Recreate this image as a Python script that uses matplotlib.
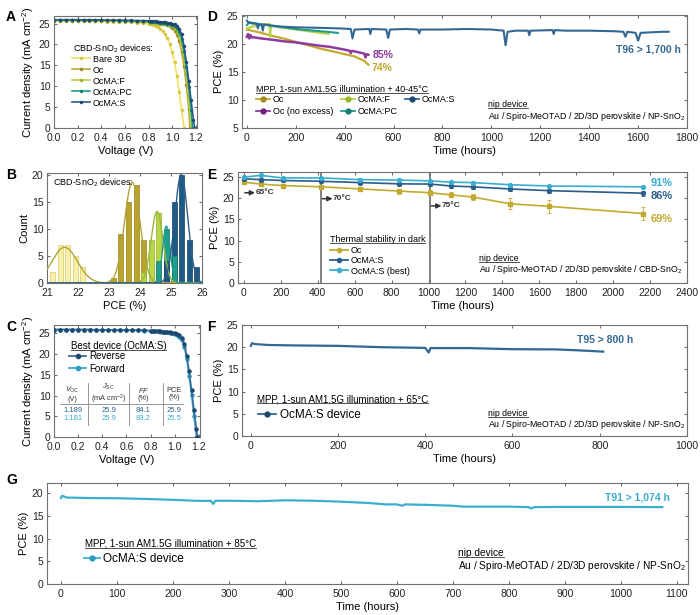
import numpy as np
import matplotlib
matplotlib.use("Agg")
import matplotlib.pyplot as plt
from matplotlib.lines import Line2D

plt.rcParams["font.family"] = ["Liberation Sans", "DejaVu Sans"]
plt.rcParams["mathtext.fontset"] = "custom"
plt.rcParams["mathtext.rm"] = "Liberation Sans"
plt.rcParams["mathtext.it"] = "Liberation Sans:italic"
plt.rcParams["mathtext.bf"] = "Liberation Sans:bold"
plt.rcParams["font.size"] = 7.5
plt.rcParams["axes.linewidth"] = 0.8
plt.rcParams["axes.edgecolor"] = "#707070"
plt.rcParams["xtick.direction"] = "in"
plt.rcParams["ytick.direction"] = "in"
plt.rcParams["xtick.top"] = True
plt.rcParams["ytick.right"] = True
plt.rcParams["xtick.major.size"] = 2.5
plt.rcParams["ytick.major.size"] = 2.5
plt.rcParams["xtick.color"] = "#707070"
plt.rcParams["ytick.color"] = "#707070"
plt.rcParams["xtick.labelcolor"] = "#222222"
plt.rcParams["ytick.labelcolor"] = "#222222"
plt.rcParams["xtick.major.pad"] = 3.5
plt.rcParams["ytick.major.pad"] = 2.5
plt.rcParams["axes.labelsize"] = 8
plt.rcParams["axes.labelpad"] = 2
plt.rcParams["legend.frameon"] = False

# colours
c_bare = "#f0df62"
c_oc = "#c2aa2e"
c_f = "#b4d444"
c_pc = "#1f9c8a"
c_s = "#2b5d8a"
c_ne = "#8e3a9e"
c_best = "#3aaed0"

# ---------------- A: J-V curves ----------------
v_grid = [0.00, 0.05, 0.10, 0.15, 0.20, 0.25, 0.30, 0.35, 0.40, 0.45, 0.50, 0.55,
          0.60, 0.65, 0.70, 0.75, 0.80, 0.82, 0.84, 0.86, 0.88, 0.90, 0.92, 0.94,
          0.96, 0.98, 1.00, 1.02, 1.04, 1.06, 1.08, 1.10, 1.12, 1.14, 1.16, 1.18]
jv_names = ["Bare 3D", "Oc", "OcMA:F", "OcMA:PC", "OcMA:S"]
jv_voc = [1.102, 1.150, 1.160, 1.172, 1.189]
j_bare = [25.6, 25.6, 25.6, 25.6, 25.6, 25.55, 25.55, 25.5, 25.5, 25.45, 25.45, 25.4,
          25.35, 25.25, 25.15, 25.05, 24.9, 24.8, 24.6, 24.4, 24.1, 23.7, 23.2, 22.5,
          21.5, 20.1, 18.2, 15.7, 12.5, 8.6, 4.3]
j_oc = [25.8, 25.8, 25.8, 25.8, 25.8, 25.75, 25.75, 25.7, 25.7, 25.7, 25.65, 25.6,
        25.6, 25.55, 25.5, 25.45, 25.4, 25.35, 25.3, 25.2, 25.1, 25.0, 24.9, 24.8,
        24.6, 24.3, 23.9, 23.3, 22.3, 20.7, 18.3, 14.8, 10.2, 4.5]
j_f = [25.7, 25.7, 25.7, 25.7, 25.7, 25.7, 25.65, 25.65, 25.6, 25.6, 25.6, 25.55,
       25.55, 25.5, 25.45, 25.4, 25.35, 25.3, 25.25, 25.2, 25.1, 25.0, 24.95, 24.85,
       24.75, 24.65, 24.5, 24.1, 23.4, 22.2, 20.2, 17.1, 12.9, 7.6]
j_pc = [25.9, 25.9, 25.9, 25.9, 25.9, 25.85, 25.85, 25.8, 25.8, 25.8, 25.75, 25.7,
        25.7, 25.65, 25.6, 25.55, 25.5, 25.45, 25.4, 25.35, 25.3, 25.2, 25.15, 25.05,
        24.95, 24.85, 24.7, 24.4, 23.9, 22.9, 21.2, 18.4, 14.6, 9.9, 4.4]
j_s = [25.9, 25.9, 25.9, 25.9, 25.9, 25.9, 25.85, 25.85, 25.85, 25.8, 25.8, 25.8,
       25.75, 25.75, 25.7, 25.7, 25.65, 25.6, 25.55, 25.5, 25.45, 25.4, 25.35, 25.3,
       25.2, 25.1, 25.0, 24.8, 24.5, 23.8, 22.4, 19.6, 15.8, 11.3, 6.6, 2.0]
jv_curves = [j_bare, j_oc, j_f, j_pc, j_s]
jv_colors = [c_bare, c_oc, c_f, c_pc, c_s]
jv_mfc = ["#d8c540", "#a08a1c", "#98b82c", "#13806f", "#1e4870"]

# ---------------- B: histograms ----------------
h_bare_x = [21.18, 21.425, 21.67, 21.915, 22.16]
h_bare_n = [2, 7, 7, 5, 3]
h_oc_x = [23.14, 23.385, 23.63, 23.875, 24.12]
h_oc_n = [1, 9, 15, 18, 8]
h_f_x = [24.12, 24.365, 24.61]
h_f_n = [2, 8, 13]
h_pc_x = [24.61, 24.855, 25.1]
h_pc_n = [4, 10, 5]
h_s_x = [24.855, 25.1, 25.345, 25.59, 25.835]
h_s_n = [4, 15, 20, 8, 3]
fit_center = [21.57, 23.75, 24.55, 24.85, 25.33]
fit_sigma = [0.41, 0.25, 0.19, 0.12, 0.21]
fit_height = [6.6, 18.6, 13.2, 10.5, 20.0]

# ---------------- C: best device ----------------
j_rev = [25.9, 25.9, 25.9, 25.9, 25.9, 25.9, 25.9, 25.85, 25.85, 25.85, 25.8, 25.8,
         25.8, 25.75, 25.75, 25.7, 25.65, 25.6, 25.55, 25.5, 25.45, 25.4, 25.35, 25.3,
         25.2, 25.1, 25.0, 24.8, 24.5, 23.8, 22.4, 19.6, 15.8, 11.3, 6.6, 2.0]
j_fwd = [25.9, 25.9, 25.9, 25.9, 25.9, 25.9, 25.85, 25.85, 25.8, 25.8, 25.8, 25.75,
         25.75, 25.7, 25.7, 25.65, 25.6, 25.55, 25.5, 25.45, 25.4, 25.35, 25.3, 25.2,
         25.1, 25.0, 24.8, 24.6, 24.2, 23.4, 21.8, 18.8, 14.8, 10.1, 5.0]
voc_rev, voc_fwd = 1.189, 1.181
tab_head = ["$V_\\mathrm{OC}$\n(V)", "$J_\\mathrm{SC}$\n(mA cm$^{-2}$)", "$FF$\n(%)", "PCE\n(%)"]
tab_rev = ["1.189", "25.9", "84.1", "25.9"]
tab_fwd = ["1.181", "25.9", "83.2", "25.5"]

# ---------------- D: MPP 40-45 C ----------------
d_s_t = [0, 5, 20, 40, 45, 50, 60, 65, 70, 100, 150, 200, 300, 380, 425, 432, 440,
         500, 505, 510, 570, 578, 585, 650, 700, 705, 710, 800, 900, 1000, 1050, 1058,
         1066, 1100, 1150, 1155, 1160, 1250, 1255, 1260, 1300, 1400, 1500, 1540, 1548,
         1556, 1590, 1600, 1610, 1650, 1700, 1725]
d_s_v = [24.2, 23.9, 23.7, 23.6, 22.8, 23.5, 23.5, 22.4, 23.5, 23.3, 23.1, 23.0, 22.9,
         22.8, 22.7, 21.0, 22.6, 22.7, 21.8, 22.7, 22.6, 21.1, 22.6, 22.7, 22.6, 21.9,
         22.6, 22.6, 22.7, 22.6, 22.4, 19.8, 22.2, 22.4, 22.4, 21.6, 22.4, 22.5, 21.8,
         22.5, 22.4, 22.4, 22.3, 22.2, 21.3, 22.2, 22.0, 20.6, 22.0, 22.1, 22.2, 22.2]
d_pc_t = [0, 10, 50, 100, 150, 200, 250, 300, 350, 372]
d_pc_v = [23.4, 23.9, 23.6, 23.3, 23.0, 22.7, 22.5, 22.3, 22.1, 22.0]
d_f_t = [0, 20, 50, 70, 92, 95, 98, 100, 150, 200, 250, 300, 333]
d_f_v = [22.8, 23.1, 23.4, 23.5, 23.6, 21.3, 23.3, 23.2, 22.9, 22.6, 22.3, 22.0, 21.8]
d_oc_t = [0, 50, 100, 150, 200, 250, 300, 350, 400, 440, 455, 465, 480, 490, 497]
d_oc_v = [22.6, 22.1, 21.5, 21.0, 20.4, 19.8, 19.2, 18.7, 18.2, 17.8, 17.5, 17.3, 17.0, 16.6, 16.3]
d_ne_t = [0, 5, 10, 15, 20, 30, 60, 100, 150, 200, 250, 300, 340, 400, 420, 425, 430,
          450, 480, 485, 490, 497]
d_ne_v = [21.3, 21.8, 21.0, 21.6, 21.2, 21.2, 21.0, 20.8, 20.5, 20.3, 20.0, 19.7, 19.5,
          19.0, 18.8, 18.4, 18.8, 18.6, 18.3, 17.6, 18.2, 18.1]

# ---------------- E: thermal stability ----------------
e_t = [0, 90, 210, 420, 630, 840, 1010, 1120, 1240, 1440, 1650, 2160]
e_oc = [23.8, 23.35, 23.0, 22.7, 22.2, 21.7, 21.3, 20.8, 20.3, 18.7, 18.1, 16.4]
e_oc_err = [0.2, 0.3, 0.4, 0.3, 0.3, 0.6, 0.6, 0.6, 0.7, 1.3, 1.6, 1.5]
e_s = [24.6, 24.4, 24.2, 24.0, 23.7, 23.4, 23.35, 22.9, 22.7, 22.2, 21.8, 21.2]
e_s_err = [0.3, 0.3, 0.4, 0.3, 0.3, 0.4, 0.4, 0.5, 0.4, 0.5, 0.5, 0.6]
e_best = [25.0, 25.4, 24.8, 24.8, 24.4, 24.3, 24.1, 23.8, 23.7, 23.2, 22.9, 22.7]
e_steps = [0, 420, 1010]
e_temps = ["65°C", "70°C", "75°C"]

# ---------------- F: MPP 65 C ----------------
f_t = [0, 3, 10, 40, 100, 200, 300, 400, 405, 408, 412, 500, 600, 700, 750, 808]
f_v = [20.3, 20.9, 20.7, 20.5, 20.4, 20.3, 20.0, 19.85, 19.2, 18.8, 19.8, 19.8, 19.55,
       19.5, 19.3, 19.0]

# ---------------- G: MPP 85 C ----------------
g_t = [0, 2, 10, 50, 100, 150, 200, 240, 268, 272, 276, 300, 350, 380, 400, 450, 500,
       550, 580, 600, 610, 615, 650, 700, 720, 800, 835, 840, 845, 900, 1000, 1074]
g_v = [18.9, 19.4, 19.0, 18.9, 18.85, 18.7, 18.5, 18.3, 18.25, 17.6, 18.3, 18.3, 18.2,
       18.3, 18.4, 18.3, 18.1, 17.8, 17.5, 17.5, 17.2, 17.5, 17.4, 17.2, 17.0, 17.0,
       16.9, 16.6, 16.9, 16.95, 16.95, 16.9]

stack_np = "Au / Spiro-MeOTAD / 2D/3D perovskite / NP-SnO$_2$"
stack_cbd = "Au / Spiro-MeOTAD / 2D/3D perovskite / CBD-SnO$_2$"

fig = plt.figure(figsize=(7.0, 6.15), dpi=100)
underlined = []


def utext(ax, x, y, s, **kw):
    t = ax.text(x, y, s, **kw)
    underlined.append(t)
    return t


def px_axes(l, t, r, b):
    return fig.add_axes([l / 700, 1 - b / 615, (r - l) / 700, (b - t) / 615])


def mline(color, mfc, label, ms=3.5):
    return Line2D([], [], color=color, lw=1.3, marker="o", ms=ms, mfc=mfc,
                  mec=mfc, label=label)


# ---- A ----
axA = px_axes(54, 16, 197, 128)
for name, J, voc, col, mfc in zip(jv_names, jv_curves, jv_voc, jv_colors, jv_mfc):
    v = v_grid[:len(J)] + [voc]
    j = J + [0.0]
    axA.plot(v, j, color=col, lw=1.2, marker="o", ms=2.2, mfc=mfc, mec=mfc, mew=0.3,
             label=name)
axA.set_xlim(0, 1.21)
axA.set_ylim(0, 26.8)
axA.set_xticks(np.arange(0, 1.21, 0.2))
axA.set_yticks([0, 5, 10, 15, 20, 25])
axA.set_xlabel("Voltage (V)")
axA.set_ylabel("Current density (mA cm$^{-2}$)")
axA.text(0.16, 19.0, "CBD-SnO$_2$ devices:", fontsize=6.5, va="center")
axA.legend(loc="upper left", bbox_to_anchor=(0.125, 0.655), fontsize=6.5,
           handlelength=2.0, handletextpad=0.3, labelspacing=0.22, borderpad=0,
           borderaxespad=0)

# ---- B ----
axB = px_axes(47, 173, 202, 283)
groups = [(h_bare_x, h_bare_n, "#f8f0a8", "#d8c860"),
          (h_oc_x, h_oc_n, "#bba22a", "#9a8418"),
          (h_f_x, h_f_n, "#b8d84a", "#8fae2c"),
          (h_pc_x, h_pc_n, "#1fa08d", "#157a6a"),
          (h_s_x, h_s_n, "#1d5a88", "#143f62")]
for xs, ns, fc, ec in groups:
    for x, n in zip(xs, ns):
        axB.bar(x, n, width=0.16, color=fc, edgecolor=ec, lw=0.5, zorder=30 - n)
fit_colors = ["#b0a43c", "#b0a43c", "#9cba3a", "#1f9c8a", "#2b5d8a"]
xx = np.linspace(21, 26, 500)
for c0, sg, hh, fc in zip(fit_center, fit_sigma, fit_height, fit_colors):
    axB.plot(xx, hh * np.exp(-(xx - c0) ** 2 / (2 * sg ** 2)), color=fc, lw=1.0, zorder=40)
axB.set_xlim(21, 26)
axB.set_ylim(0, 20.3)
axB.set_xticks([21, 22, 23, 24, 25, 26])
axB.set_yticks([0, 5, 10, 15, 20])
axB.set_xlabel("PCE (%)")
axB.set_ylabel("Count")
axB.text(21.19, 18.5, "CBD-SnO$_2$ devices:", fontsize=6.5, va="center", zorder=50)

# ---- C ----
axC = px_axes(54, 325, 200, 437)
axC.plot(v_grid[:len(j_fwd)] + [voc_fwd], j_fwd + [0.0], color=c_best, lw=1.2,
         marker="o", ms=2.2, mfc="#2a9cc0", mec="#2a9cc0", zorder=2)
axC.plot(v_grid[:len(j_rev)] + [voc_rev], j_rev + [0.0], color="#3b6e98", lw=1.2,
         marker="o", ms=2.2, mfc="#1e4870", mec="#1e4870", zorder=3)
axC.set_xlim(0, 1.21)
axC.set_ylim(0, 27)
axC.set_xticks(np.arange(0, 1.21, 0.2))
axC.set_yticks([0, 5, 10, 15, 20, 25])
axC.set_xlabel("Voltage (V)")
axC.set_ylabel("Current density (mA cm$^{-2}$)")
utext(axC, 0.137, 22.0, "Best device (OcMA:S)", fontsize=7, va="center")
axC.legend(handles=[mline("#3b6e98", "#1e4870", "Reverse", 3),
                    mline(c_best, "#2a9cc0", "Forward", 3)],
           loc="upper left", bbox_to_anchor=(0.105, 0.765), fontsize=7,
           handlelength=1.7, handletextpad=0.3, labelspacing=0.25, borderpad=0,
           borderaxespad=0)
tab_x = [0.154, 0.452, 0.74, 0.997]
for x, hd, r, f in zip(tab_x, tab_head, tab_rev, tab_fwd):
    axC.text(x, 10.4, hd, fontsize=5.3, ha="center", va="center", color="#333333",
             linespacing=1.1)
    axC.text(x, 6.5, r, fontsize=5.5, ha="center", va="center", color="#2b5d8a")
    axC.text(x, 4.4, f, fontsize=5.5, ha="center", va="center", color=c_best)
axC.plot([0.05, 1.07], [7.9, 7.9], color="#888888", lw=0.6)
for x in [0.285, 0.62, 0.905]:
    axC.plot([x, x], [2.8, 12.9], color="#888888", lw=0.6)

# ---- D ----
axD = px_axes(242, 15, 687, 128)
axD.plot(d_oc_t, d_oc_v, color=c_oc, lw=1.6)
axD.plot(d_ne_t, d_ne_v, color=c_ne, lw=1.8)
axD.plot(d_f_t, d_f_v, color=c_f, lw=1.5)
axD.plot(d_pc_t, d_pc_v, color=c_pc, lw=1.5)
axD.plot(d_s_t, d_s_v, color="#336894", lw=1.5)
axD.set_xlim(-20, 1800)
axD.set_ylim(5, 25.2)
axD.set_xticks(np.arange(0, 1801, 200))
axD.set_yticks([5, 10, 15, 20, 25])
axD.set_xlabel("Time (hours)")
axD.set_ylabel("PCE (%)")
utext(axD, 38, 11.83, "MPP, 1-sun AM1.5G illumination + 40-45°C", fontsize=6.5, va="center")
axD.legend(handles=[mline(c_oc, "#a08a1c", "Oc"), mline(c_ne, "#6e2080", "Oc (no excess)"),
                    mline(c_f, "#98b82c", "OcMA:F"), mline(c_pc, "#13806f", "OcMA:PC"),
                    mline("#336894", "#1e4870", "OcMA:S")],
           ncol=3, loc="upper left", bbox_to_anchor=(0.031, 0.29), fontsize=6.5,
           handlelength=1.6, handletextpad=0.3, labelspacing=0.3, columnspacing=0.8,
           borderpad=0, borderaxespad=0)
axD.text(1773, 18.95, "T96 > 1,700 h", fontsize=7.5, fontweight="bold", color="#336894",
         ha="right", va="center")
axD.text(513, 18.06, "85%", fontsize=7.5, fontweight="bold", color=c_ne, va="center")
axD.text(509, 15.7, "74%", fontsize=7.5, fontweight="bold", color=c_oc, va="center")
utext(axD, 987, 9.27, "nip device", fontsize=6.3, va="center")
axD.text(987, 7.08, stack_np, fontsize=6.3, va="center")

# ---- E ----
axE = px_axes(238, 172, 687, 283)
for x in e_steps[1:]:
    axE.axvline(x, color="#808080", lw=1.4, zorder=1)
axE.errorbar(e_t, e_oc, yerr=e_oc_err, color=c_oc, lw=1.2, marker="s", ms=2.8,
             elinewidth=0.6, capsize=1.5, capthick=0.6, zorder=3)
axE.errorbar(e_t, e_s, yerr=e_s_err, color=c_s, lw=1.2, marker="o", ms=2.8,
             elinewidth=0.6, capsize=1.5, capthick=0.6, zorder=4)
axE.plot(e_t, e_best, color=c_best, lw=1.2, marker="o", ms=2.8, zorder=5)
arrow_y = [21.3, 19.9, 18.2]
for x, tt, y in zip(e_steps, e_temps, arrow_y):
    axE.annotate("", xy=(x + 60, y), xytext=(x + 5, y),
                 arrowprops=dict(arrowstyle="-|>", color="#333333", lw=1.1,
                                 mutation_scale=7, shrinkA=0, shrinkB=0))
    axE.text(x + 62, y, tt, fontsize=6, fontweight="bold", color="#333333", va="center")
axE.set_xlim(-32, 2400)
axE.set_ylim(0, 26.2)
axE.set_xticks(np.arange(0, 2401, 200))
axE.set_yticks([0, 5, 10, 15, 20, 25])
axE.set_xlabel("Time (hours)")
axE.set_ylabel("PCE (%)")
utext(axE, 466, 10.3, "Thermal stability in dark", fontsize=6.5, va="center")
axE.legend(handles=[mline(c_oc, c_oc, "Oc", 3), mline(c_s, c_s, "OcMA:S", 3),
                    mline(c_best, c_best, "OcMA:S (best)", 3)],
           loc="upper left", bbox_to_anchor=(0.205, 0.335), fontsize=6.5,
           handlelength=2.0, handletextpad=0.3, labelspacing=0.15, borderpad=0,
           borderaxespad=0)
axE.text(2205, 23.5, "91%", fontsize=8, fontweight="bold", color=c_best, va="center")
axE.text(2205, 20.6, "86%", fontsize=8, fontweight="bold", color=c_s, va="center")
axE.text(2205, 15.2, "69%", fontsize=8, fontweight="bold", color=c_oc, va="center")
utext(axE, 1276, 5.7, "nip device", fontsize=6.3, va="center")
axE.text(1276, 3.1, stack_cbd, fontsize=6.3, va="center")

# ---- F ----
axF = px_axes(242, 325, 687, 436)
axF.plot(f_t, f_v, color="#336894", lw=1.6)
axF.set_xlim(-20, 1000)
axF.set_ylim(0, 25)
axF.set_xticks(np.arange(0, 1001, 200))
axF.set_yticks([0, 5, 10, 15, 20, 25])
axF.set_xlabel("Time (hours)")
axF.set_ylabel("PCE (%)")
utext(axF, 14, 8.26, "MPP, 1-sun AM1.5G illumination + 65°C", fontsize=7, va="center")
axF.legend(handles=[mline("#336894", "#1e4870", "OcMA:S device")],
           loc="upper left", bbox_to_anchor=(0.037, 0.245), fontsize=8.5,
           handlelength=1.5, handletextpad=0.3, borderpad=0, borderaxespad=0)
axF.text(748, 21.6, "T95 > 800 h", fontsize=7.5, fontweight="bold", color="#336894",
         va="center")
utext(axF, 545, 5.1, "nip device", fontsize=6.3, va="center")
axF.text(545, 2.5, stack_np, fontsize=6.3, va="center")

# ---- G ----
axG = px_axes(47, 483, 688, 584)
axG.plot(g_t, g_v, color=c_best, lw=1.6)
axG.set_xlim(-25, 1120)
axG.set_ylim(0, 22.2)
axG.set_xticks(np.arange(0, 1101, 100))
axG.set_yticks([0, 5, 10, 15, 20])
axG.set_xlabel("Time (hours)")
axG.set_ylabel("PCE (%)")
utext(axG, 42, 8.9, "MPP, 1-sun AM1.5G illumination + 85°C", fontsize=7, va="center")
axG.legend(handles=[mline(c_best, "#2a9cc0", "OcMA:S device")],
           loc="upper left", bbox_to_anchor=(0.058, 0.31), fontsize=8.5,
           handlelength=1.3, handletextpad=0.3, borderpad=0, borderaxespad=0)
axG.text(1088, 19.1, "T91 > 1,074 h", fontsize=7.5, fontweight="bold", color=c_best,
         ha="right", va="center")
utext(axG, 709, 6.8, "nip device", fontsize=7.3, va="center")
axG.text(709, 3.9, stack_np, fontsize=7.3, va="center")

# panel letters
for lab, x, y in [("A", 6, 17), ("D", 207, 17), ("B", 6, 175), ("E", 207, 175),
                  ("C", 6, 327), ("F", 207, 327), ("G", 6, 480)]:
    fig.text(x / 700, 1 - y / 615, lab, fontsize=10, fontweight="bold",
             family=["Liberation Sans Narrow", "Liberation Sans"], va="center")

# underline the legend titles
fig.canvas.draw()
rend = fig.canvas.get_renderer()
inv = fig.transFigure.inverted()
for t in underlined:
    bb = t.get_window_extent(rend)
    (x0, y0), (x1, _) = inv.transform([(bb.x0, bb.y0 + 1), (bb.x1, bb.y1)])
    fig.add_artist(Line2D([x0, x1], [y0, y0], transform=fig.transFigure,
                          color="#333333", lw=0.6))

fig.savefig("out.png", dpi=100)
